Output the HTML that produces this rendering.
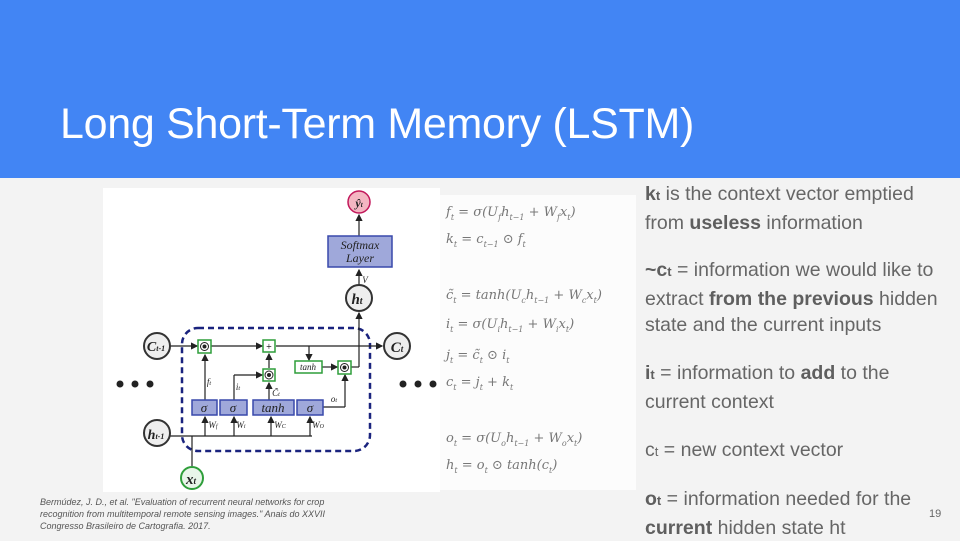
<!DOCTYPE html>
<html><head><meta charset="utf-8"><style>
body{margin:0;width:960px;height:540px;overflow:hidden;background:#f3f3f3;font-family:"Liberation Sans",sans-serif;position:relative}
.hdr{position:absolute;left:0;top:0;width:960px;height:178px;background:#4285f4}
.title{position:absolute;left:60px;top:100px;color:#fff;font-size:43px;letter-spacing:-0.3px}
.txt{position:absolute;left:645px;color:#666;font-size:19.5px;line-height:26.5px;letter-spacing:0px;white-space:nowrap}
.txt b{color:#5f5f5f}
.cite{position:absolute;left:40px;top:496px;font-size:9px;line-height:12px;color:#555;font-style:italic}
.pg{position:absolute;left:929px;top:508px;font-size:11px;color:#666}
</style></head><body>
<div class="hdr"></div>
<div class="title">Long Short-Term Memory (LSTM)</div>
<svg style="position:absolute;left:0;top:0" width="960" height="540" font-family="Liberation Serif" font-style="italic">
<rect x="103" y="188" width="337" height="304" fill="#fff"/>
<rect x="440" y="195" width="196" height="295" fill="#fcfcfc"/>
<defs><marker id="a" markerWidth="6" markerHeight="6" refX="5" refY="3" orient="auto"><path d="M0,0 L6,3 L0,6z" fill="#222"/></marker></defs>
<g stroke="#222" stroke-width="1.2" fill="none">
<rect x="182" y="328" width="188" height="123" rx="16" stroke="#1a237e" stroke-width="2.5" stroke-dasharray="6,4"/>
<line x1="170" y1="346" x2="197" y2="346" marker-end="url(#a)"/>
<line x1="211" y1="346" x2="262" y2="346" marker-end="url(#a)"/>
<line x1="276" y1="346" x2="382" y2="346" marker-end="url(#a)"/>
<line x1="309" y1="346" x2="309" y2="360" marker-end="url(#a)"/>
<line x1="322" y1="367" x2="337" y2="367" marker-end="url(#a)"/>
<line x1="351" y1="367" x2="359" y2="367"/>
<line x1="359" y1="367" x2="359" y2="313" marker-end="url(#a)"/>
<line x1="359" y1="285" x2="359" y2="270" marker-end="url(#a)"/>
<line x1="359" y1="236" x2="359" y2="215" marker-end="url(#a)"/>
<line x1="170" y1="436" x2="312" y2="436"/>
<line x1="192" y1="466" x2="192" y2="436"/>
<line x1="205" y1="436" x2="205" y2="417" marker-end="url(#a)"/>
<line x1="234" y1="436" x2="234" y2="417" marker-end="url(#a)"/>
<line x1="271" y1="436" x2="271" y2="417" marker-end="url(#a)"/>
<line x1="310" y1="436" x2="310" y2="417" marker-end="url(#a)"/>
<line x1="205" y1="400" x2="205" y2="355" marker-end="url(#a)"/>
<line x1="234" y1="400" x2="234" y2="375"/>
<line x1="234" y1="375" x2="262" y2="375" marker-end="url(#a)"/>
<line x1="269" y1="400" x2="269" y2="383" marker-end="url(#a)"/>
<line x1="269" y1="368" x2="269" y2="354" marker-end="url(#a)"/>
<line x1="323" y1="407" x2="345" y2="407"/>
<line x1="345" y1="407" x2="345" y2="375" marker-end="url(#a)"/>
</g>
<g fill="#9fa8da" stroke="#3949ab" stroke-width="1.5">
<rect x="328" y="236" width="64" height="31"/>
<rect x="192" y="400" width="25" height="15"/>
<rect x="220" y="400" width="27" height="15"/>
<rect x="253" y="400" width="41" height="15"/>
<rect x="297" y="400" width="26" height="15"/>
</g>
<g fill="#fff" stroke="#2e9e3a" stroke-width="1.5">
<rect x="198" y="340" width="13" height="13"/>
<rect x="263" y="340" width="12" height="12"/>
<rect x="263" y="369" width="12" height="12"/>
<rect x="295" y="361" width="27" height="12"/>
<rect x="338" y="361" width="13" height="13"/>
</g>
<g fill="#222"><circle cx="204.5" cy="346.5" r="2"/><circle cx="269" cy="375" r="2"/><circle cx="344.5" cy="367.5" r="2"/>
<circle cx="120" cy="384" r="3.5"/><circle cx="135" cy="384" r="3.5"/><circle cx="150" cy="384" r="3.5"/>
<circle cx="403" cy="384" r="3.5"/><circle cx="418" cy="384" r="3.5"/><circle cx="433" cy="384" r="3.5"/></g>
<g fill="none" stroke="#222"><circle cx="204.5" cy="346.5" r="4"/><circle cx="269" cy="375" r="4"/><circle cx="344.5" cy="367.5" r="4"/></g>
<text x="269" y="350" font-size="10" font-style="normal" text-anchor="middle">+</text>
<circle cx="359" cy="202" r="11" fill="#f4b6c2" stroke="#c2185b" stroke-width="1.5"/>
<g fill="#eee" stroke="#333" stroke-width="2"><circle cx="359" cy="298" r="13"/><circle cx="157" cy="346" r="13"/><circle cx="397" cy="346" r="13"/><circle cx="157" cy="433" r="13"/></g>
<circle cx="192" cy="478" r="11" fill="#e8f5e9" stroke="#2e9e3a" stroke-width="2"/>
<g font-weight="bold" text-anchor="middle" fill="#222">
<text x="359" y="207" font-size="12">ŷ<tspan font-size="7">t</tspan></text>
<text x="357" y="304" font-size="15">h<tspan font-size="10">t</tspan></text>
<text x="156" y="351" font-size="14">C<tspan font-size="8">t-1</tspan></text>
<text x="397" y="352" font-size="15">C<tspan font-size="9">t</tspan></text>
<text x="156" y="439" font-size="14">h<tspan font-size="8">t-1</tspan></text>
<text x="191" y="484" font-size="15">x<tspan font-size="9">t</tspan></text>
</g>
<g fill="#222" text-anchor="middle">
<text x="360" y="249" font-size="12">Softmax</text><text x="360" y="262" font-size="12">Layer</text>
<text x="204" y="412" font-size="13">σ</text><text x="233" y="412" font-size="13">σ</text>
<text x="273" y="412" font-size="13">tanh</text><text x="310" y="412" font-size="13">σ</text>
<text x="308" y="370" font-size="9">tanh</text>
<text x="365" y="283" font-size="9">V</text>
<text x="209" y="385" font-size="9">f<tspan font-size="6">t</tspan></text>
<text x="238" y="390" font-size="9">i<tspan font-size="6">t</tspan></text>
<text x="276" y="396" font-size="9">C̃<tspan font-size="6">t</tspan></text>
<text x="334" y="402" font-size="9">o<tspan font-size="6">t</tspan></text>
<text x="213" y="428" font-size="9">W<tspan font-size="6">f</tspan></text>
<text x="241" y="428" font-size="9">W<tspan font-size="6">i</tspan></text>
<text x="280" y="428" font-size="9">W<tspan font-size="6">C</tspan></text>
<text x="318" y="428" font-size="9">W<tspan font-size="6">O</tspan></text>
</g>
<g fill="#777" font-size="13" font-family="DejaVu Serif">
<text x="446" y="216">f<tspan font-size="8" dy="4">t</tspan><tspan dy="-4"> = σ(U</tspan><tspan font-size="8" dy="4">f</tspan><tspan dy="-4">h</tspan><tspan font-size="8" dy="4">t−1</tspan><tspan dy="-4"> + W</tspan><tspan font-size="8" dy="4">f</tspan><tspan dy="-4">x</tspan><tspan font-size="8" dy="4">t</tspan><tspan dy="-4">)</tspan></text>
<text x="446" y="243">k<tspan font-size="8" dy="4">t</tspan><tspan dy="-4"> = c</tspan><tspan font-size="8" dy="4">t−1</tspan><tspan dy="-4"> ⊙ f</tspan><tspan font-size="8" dy="4">t</tspan></text>
<text x="446" y="299">c̃<tspan font-size="8" dy="4">t</tspan><tspan dy="-4"> = tanh(U</tspan><tspan font-size="8" dy="4">c</tspan><tspan dy="-4">h</tspan><tspan font-size="8" dy="4">t−1</tspan><tspan dy="-4"> + W</tspan><tspan font-size="8" dy="4">c</tspan><tspan dy="-4">x</tspan><tspan font-size="8" dy="4">t</tspan><tspan dy="-4">)</tspan></text>
<text x="446" y="328">i<tspan font-size="8" dy="4">t</tspan><tspan dy="-4"> = σ(U</tspan><tspan font-size="8" dy="4">i</tspan><tspan dy="-4">h</tspan><tspan font-size="8" dy="4">t−1</tspan><tspan dy="-4"> + W</tspan><tspan font-size="8" dy="4">i</tspan><tspan dy="-4">x</tspan><tspan font-size="8" dy="4">t</tspan><tspan dy="-4">)</tspan></text>
<text x="446" y="359">j<tspan font-size="8" dy="4">t</tspan><tspan dy="-4"> = c̃</tspan><tspan font-size="8" dy="4">t</tspan><tspan dy="-4"> ⊙ i</tspan><tspan font-size="8" dy="4">t</tspan></text>
<text x="446" y="386">c<tspan font-size="8" dy="4">t</tspan><tspan dy="-4"> = j</tspan><tspan font-size="8" dy="4">t</tspan><tspan dy="-4"> + k</tspan><tspan font-size="8" dy="4">t</tspan></text>
<text x="446" y="442">o<tspan font-size="8" dy="4">t</tspan><tspan dy="-4"> = σ(U</tspan><tspan font-size="8" dy="4">o</tspan><tspan dy="-4">h</tspan><tspan font-size="8" dy="4">t−1</tspan><tspan dy="-4"> + W</tspan><tspan font-size="8" dy="4">o</tspan><tspan dy="-4">x</tspan><tspan font-size="8" dy="4">t</tspan><tspan dy="-4">)</tspan></text>
<text x="446" y="469">h<tspan font-size="8" dy="4">t</tspan><tspan dy="-4"> = o</tspan><tspan font-size="8" dy="4">t</tspan><tspan dy="-4"> ⊙ tanh(c</tspan><tspan font-size="8" dy="4">t</tspan><tspan dy="-4">)</tspan></text>
</g>
</svg>
<div class="txt" style="top:181px"><b>k</b><b style="font-size:13px">t</b> is the context vector emptied<br>from <b>useless</b> information</div>
<div class="txt" style="top:257px"><b>~c</b><b style="font-size:13px">t</b> = information we would like to<br>extract <b>from the previous</b> hidden<br>state and the current inputs</div>
<div class="txt" style="top:360px"><b>i</b><b style="font-size:13px">t</b> = information to <b>add</b> to the<br>current context</div>
<div class="txt" style="top:437px">c<span style="font-size:13px">t</span> = new context vector</div>
<div class="txt" style="top:486px"><b>o</b><b style="font-size:13px">t</b> = information needed for the<br><b>current</b> hidden state ht</div>
<div class="cite">Bermúdez, J. D., et al. "Evaluation of recurrent neural networks for crop<br>recognition from multitemporal remote sensing images." Anais do XXVII<br>Congresso Brasileiro de Cartografia. 2017.</div>
<div class="pg">19</div>
</body></html>
